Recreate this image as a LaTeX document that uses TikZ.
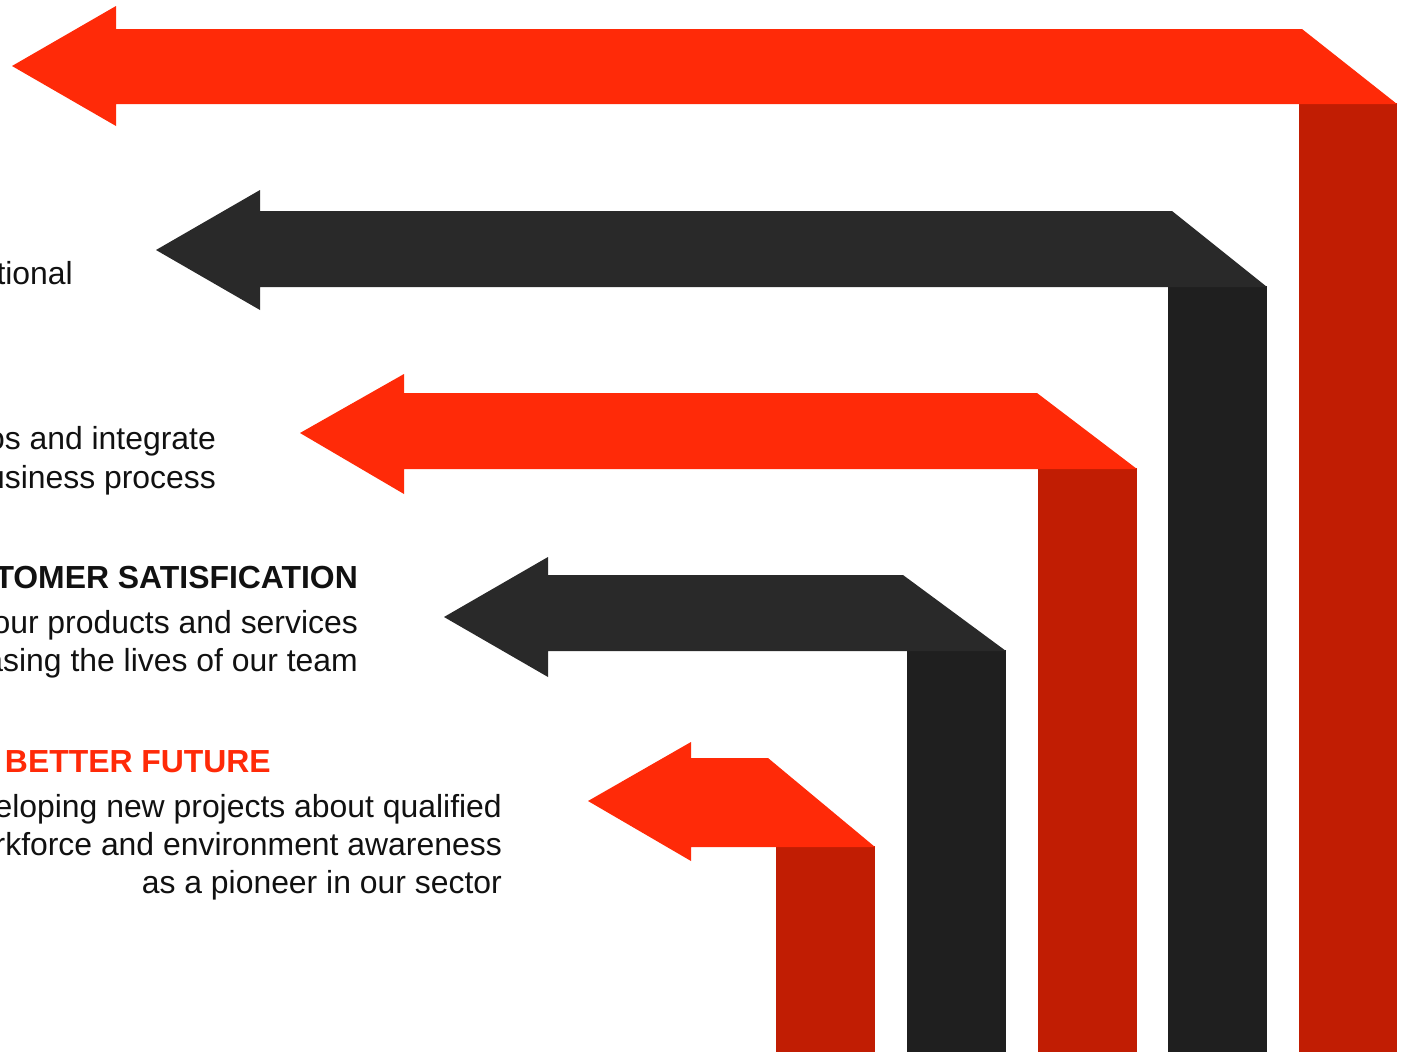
\documentclass[tikz,border=0pt]{standalone}
\usepackage{fontspec}
\setmainfont{Liberation Sans}
\definecolor{brightred}{HTML}{FF2A08}
\definecolor{darkred}{HTML}{C11D03}
\definecolor{darkgray}{HTML}{292929}
\definecolor{bargray}{HTML}{1F1F1F}
\definecolor{txt}{HTML}{111111}
\tikzset{
  body/.style={font=\fontsize{31.9}{38}\selectfont, text=txt, anchor=base east, inner sep=0pt},
  head/.style={font=\fontsize{31.9}{38}\selectfont\bfseries, anchor=base east, inner sep=0pt},
}
\begin{document}
\begin{tikzpicture}[x=1pt,y=-1pt]
\useasboundingbox (0,0) rectangle (1409,1052);
% vertical bars
\fill[darkred]  (1299,103) rectangle (1397,1053);
\fill[bargray]  (1168,286) rectangle (1267,1053);
\fill[darkred]  (1038,468) rectangle (1137,1053);
\fill[bargray]  (907,650) rectangle (1006,1053);
\fill[darkred]  (776,846) rectangle (875,1053);
% arrows
\fill[brightred] (12,66) -- (116,6) -- (116,29) -- (1302,29) -- (1397,104) -- (116,104) -- (116,126) -- cycle;
\fill[darkgray] (156,250) -- (260,190) -- (260,211) -- (1172,211) -- (1267,287) -- (260,287) -- (260,310) -- cycle;
\fill[brightred] (300,433) -- (404,374) -- (404,393) -- (1037,393) -- (1137,469) -- (404,469) -- (404,494) -- cycle;
\fill[darkgray] (444,617) -- (548,557) -- (548,575) -- (903,575) -- (1006,651) -- (548,651) -- (548,677) -- cycle;
\fill[brightred] (588,801) -- (691,742) -- (691,758) -- (768,758) -- (875,847) -- (691,847) -- (691,861) -- cycle;
% texts
\node[body] (t2a) at (73,284) {tional};
\node[body] (t3a) at (216,449) {os and integrate};
\node[body] (t3b) at (216,488) {usiness process};
\node[head, text=txt] (t4h) at (358,588) {TOMER SATISFICATION};
\node[body] (t4a) at (358,633) {our products and services};
\node[body] (t4b) at (358,671) {asing the lives of our team};
\node[head, text=brightred] (t5h) at (271,772) {BETTER FUTURE};
\node[body] (t5a) at (502,817) {eloping new projects about qualified};
\node[body] (t5b) at (502,855) {rkforce and environment awareness};
\node[body] (t5c) at (502,893) {as a pioneer in our sector};
\end{tikzpicture}
\end{document}
